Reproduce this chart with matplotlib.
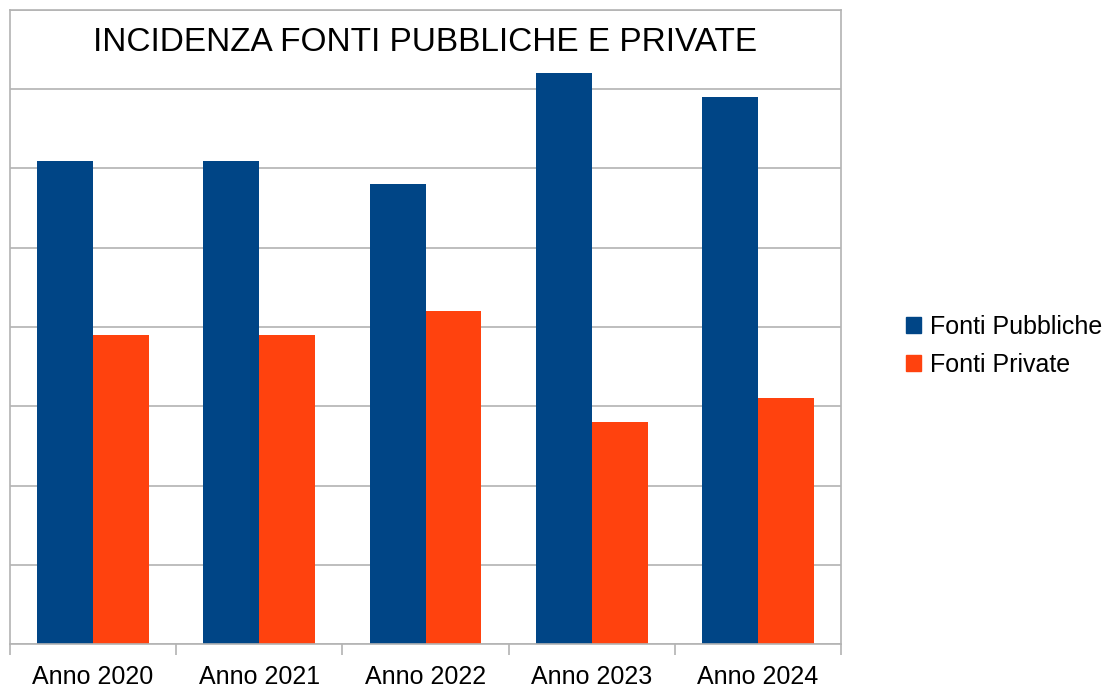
import numpy as np
import matplotlib
matplotlib.use("Agg")
import matplotlib.pyplot as plt
from matplotlib.patches import Patch

anni = ["Anno 2020", "Anno 2021", "Anno 2022", "Anno 2023", "Anno 2024"]
fonti_pubbliche = [61, 61, 58, 72, 69]
fonti_private = [39, 39, 42, 28, 31]

blu = "#004586"
arancio = "#ff420e"
grigio = "#b3b3b3"

plt.rcParams["font.family"] = ["Liberation Sans", "DejaVu Sans"]

fig = plt.figure(figsize=(11.19, 6.89), dpi=100)
ax = fig.add_axes([10 / 1119, 1 - 644 / 689, 831 / 1119, 634 / 689])

x = np.arange(len(anni))
w = 0.336
ax.bar(x - w / 2, fonti_pubbliche, w, color=blu, zorder=2)
ax.bar(x + w / 2, fonti_private, w, color=arancio, zorder=2)

ax.set_xlim(-0.5, len(anni) - 0.5)
ax.set_ylim(0, 80)
ax.set_yticks(np.arange(0, 81, 10))
ax.yaxis.grid(True, color=grigio, linewidth=1.2, zorder=0)
ax.tick_params(axis="y", length=0, labelleft=False)

ax.set_xticks(x)
ax.set_xticklabels(anni, fontsize=18)
ax.tick_params(axis="x", which="major", length=0, pad=15)
ax.set_xticks(np.arange(-0.5, len(anni), 1), minor=True)
ax.tick_params(axis="x", which="minor", length=8, width=1.2, color=grigio)

for s in ax.spines.values():
    s.set_color(grigio)
    s.set_linewidth(1.2)

ax.text(0.5, 0.948, "INCIDENZA FONTI PUBBLICHE E PRIVATE", transform=ax.transAxes,
        ha="center", va="center", fontsize=24)

handles = [Patch(color=blu, label="Fonti Pubbliche"), Patch(color=arancio, label="Fonti Private")]
fig.legend(handles=handles, loc="center left", bbox_to_anchor=(883 / 1119, 1 - 346 / 689),
           frameon=False, fontsize=18, handlelength=0.6, handleheight=0.6,
           handletextpad=0.4, labelspacing=0.55)

fig.savefig("out.png", dpi=100)
plt.close()
